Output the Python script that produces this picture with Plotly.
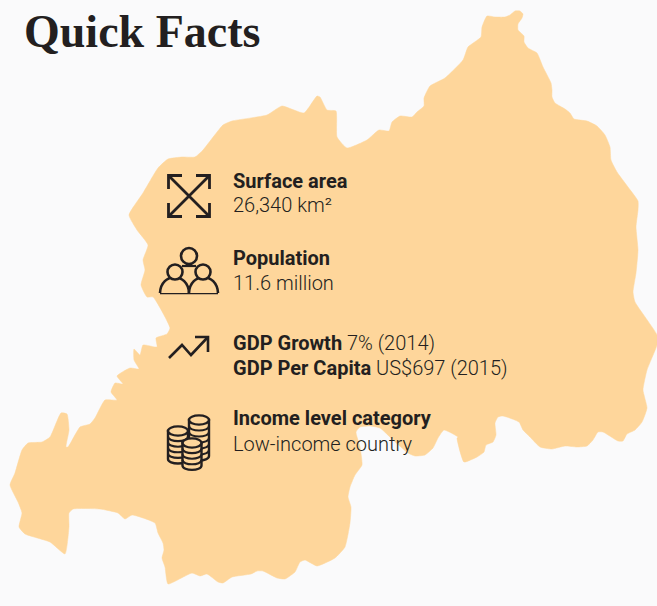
import plotly.graph_objects as go

WIDTH, HEIGHT = 657, 606
BG = "#FAFAFB"
MAP = "#FED69B"
INK = "#231F20"
SANS = "Roboto"

title_text = "Quick Facts"

fact_lines = [
    "<b>Surface area</b>",
    "26,340 km²",
    "<b>Population</b>",
    "11.6 million",
    "<b>GDP Growth</b> 7% (2014)",
    "<b>GDP Per Capita</b> US$697 (2015)",
    "<b>Income level category</b>",
    "Low-income country",
]
fact_y = [181, 205, 258, 283, 343, 368, 418, 444]

outline_x = [487, 495, 505, 510, 515, 520, 523, 522, 518, 518, 524, 524, 528, 537, 543, 551, 552, 552, 555, 565,
             570, 574, 587, 597, 605, 610, 611, 617, 628, 638, 638, 636, 638, 636, 633, 635, 657, 657, 647, 643,
             647, 642, 635, 627, 623, 618, 603, 598, 593, 587, 577, 565, 552, 540, 530, 523, 519, 503, 498, 495,
             496, 493, 486, 484, 477, 464, 457, 458, 444, 438, 433, 425, 415, 408, 393, 380, 370, 360, 356, 360,
             362, 355, 350, 348, 351, 350, 345, 335, 317, 305, 300, 295, 285, 277, 263, 257, 251, 232, 223, 218,
             207, 200, 192, 168, 165, 162, 164, 163, 158, 155, 132, 125, 118, 100, 73, 69, 69, 65, 50, 25,
             19, 22, 18, 10, 15, 22, 28, 42, 50, 61, 67, 69, 66, 68, 80, 90, 95, 105, 117, 111,
             115, 123, 117, 130, 139, 134, 134, 140, 143, 157, 156, 167, 170, 153, 147, 141, 145, 143, 148, 137,
             129, 143, 158, 168, 182, 195, 203, 223, 232, 267, 282, 304, 317, 320, 327, 336, 337, 347, 367, 379,
             389, 392, 400, 412, 417, 424, 424, 430, 445, 463, 468, 481, 482, 487]
outline_y = [16, 17, 17, 15, 11, 11, 14, 18, 24, 30, 36, 42, 48, 53, 67, 83, 90, 97, 103, 109,
             113, 119, 121, 126, 135, 147, 160, 172, 187, 201, 210, 227, 250, 273, 292, 302, 335, 345, 370, 390,
             408, 422, 430, 434, 441, 441, 432, 432, 440, 446, 447, 446, 449, 447, 437, 430, 422, 416, 417, 423,
             435, 442, 445, 452, 457, 462, 438, 437, 430, 438, 448, 455, 456, 453, 440, 428, 426, 427, 432, 447,
             465, 475, 487, 497, 507, 523, 547, 558, 566, 560, 562, 572, 579, 578, 571, 571, 574, 577, 583, 582,
             574, 576, 573, 584, 567, 558, 550, 543, 533, 523, 515, 519, 513, 509, 509, 513, 527, 554, 542, 534,
             527, 513, 502, 485, 473, 450, 443, 442, 437, 413, 414, 430, 447, 447, 427, 424, 418, 400, 400, 392,
             383, 384, 376, 368, 369, 360, 349, 355, 345, 347, 338, 334, 328, 297, 297, 285, 270, 260, 245, 230,
             215, 193, 168, 159, 157, 157, 150, 125, 121, 115, 106, 113, 96, 97, 110, 111, 137, 148, 140, 130,
             131, 122, 116, 117, 112, 106, 98, 86, 78, 60, 47, 37, 27, 16]

fig = go.Figure(go.Scatter(
    x=outline_x, y=outline_y, mode="lines", fill="toself", fillcolor=MAP,
    line=dict(color=MAP, width=0.5, shape="spline", smoothing=0.45), hoverinfo="skip",
))

shapes = []


def stroke(path, width=2.4, fill=None):
    shapes.append(dict(type="path", path=path, xref="x", yref="y",
                       line=dict(color=INK, width=width),
                       fillcolor=fill if fill else "rgba(0,0,0,0)"))


def ellipse(cx, cy, rx, ry, width=2.4, fill=None):
    shapes.append(dict(type="circle", xref="x", yref="y", x0=cx - rx, x1=cx + rx, y0=cy - ry, y1=cy + ry,
                       line=dict(color=INK, width=width), fillcolor=fill if fill else "rgba(0,0,0,0)"))


# expand icon
stroke("M169 176 L209 216 M209 176 L169 216", 2.8)
stroke("M182 175.5 H168.5 V189", 2.8)
stroke("M196 175.5 H209.5 V189", 2.8)
stroke("M168.5 203 V216.5 H182", 2.8)
stroke("M209.5 203 V216.5 H196", 2.8)

# people icon
stroke("M160 293 H218", 2.6)
stroke("M160 293 C161 272 188 272 189 293", 2.6, MAP)
stroke("M189 293 C190 272 217 272 218 293", 2.6, MAP)
ellipse(175, 272, 7.5, 7.5, 2.6, MAP)
ellipse(203, 272, 7.5, 7.5, 2.6, MAP)
ellipse(189, 256, 8, 8, 2.6, MAP)
stroke("M182 266 H196", 2.2)

# trend icon
stroke("M169 358 L182 345 L191 355 L207 338", 2.6)
stroke("M195 337 H208 V352", 2.6)


# coin icon
def coin_stack(cx, top, rx, ry, count, gap):
    bottom = top + count * gap
    stroke(f"M{cx-rx} {top} V{bottom} C{cx-rx} {bottom+ry*1.3} {cx+rx} {bottom+ry*1.3} {cx+rx} {bottom} V{top} Z", 2.4, MAP)
    for i in range(1, count):
        y = top + i * gap
        stroke(f"M{cx-rx} {y} C{cx-rx} {y+ry*1.3} {cx+rx} {y+ry*1.3} {cx+rx} {y}", 2.1)
    ellipse(cx, top, rx, ry, 2.4, MAP)


coin_stack(199, 420, 10, 4.6, 6, 6)
coin_stack(178, 431, 10, 4.6, 5, 5.6)
coin_stack(192, 443, 9.5, 4.6, 4, 5.6)

annotations = [dict(text=title_text, x=21.5, y=31, xref="x", yref="y", xanchor="left", yanchor="middle",
                    showarrow=False, font=dict(family="Liberation Serif", size=46, color=INK, weight=700))]
for line, y in zip(fact_lines, fact_y):
    annotations.append(dict(text=line, x=231, y=y, xref="x", yref="y", xanchor="left", yanchor="middle",
                            showarrow=False, font=dict(family=SANS, size=20, color=INK, weight=300)))

fig.update_layout(
    width=WIDTH, height=HEIGHT, margin=dict(l=0, r=0, t=0, b=0, pad=0),
    paper_bgcolor=BG, plot_bgcolor=BG, showlegend=False,
    xaxis=dict(range=[0, WIDTH], visible=False, fixedrange=True),
    yaxis=dict(range=[HEIGHT, 0], visible=False, fixedrange=True),
    shapes=shapes, annotations=annotations,
)
fig.write_html("out.html", config={"displayModeBar": False},
               post_script="document.body.style.margin='0';document.body.style.background='#FAFAFB';document.body.style.overflow='hidden';window.dispatchEvent(new Event('resize'));")
